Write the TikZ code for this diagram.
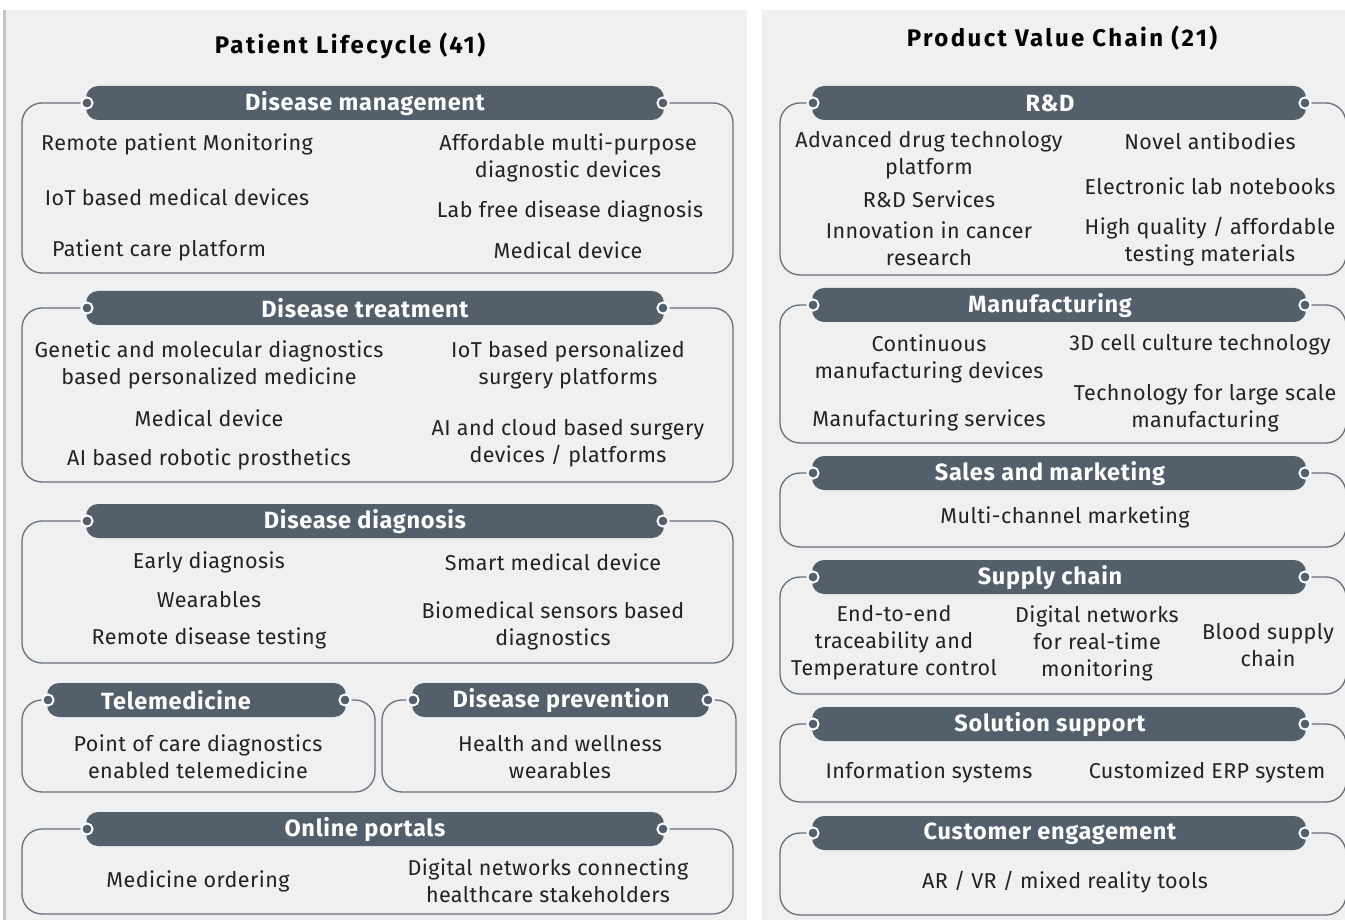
\documentclass[tikz,border=0pt]{standalone}
\usepackage{fontspec}
\setmainfont{Fira Sans}
\newfontfamily\titlefont[LetterSpace=10]{Fira Sans}
\newfontfamily\barfont[LetterSpace=3]{Fira Sans}
\newfontfamily\itemfont[LetterSpace=2]{Fira Sans}
\definecolor{barc}{HTML}{535F6B}
\definecolor{linec}{HTML}{66717C}
\definecolor{panelc}{HTML}{F0F0F0}
\definecolor{edgec}{HTML}{C3C7CB}
\definecolor{txtc}{HTML}{222222}
\tikzset{
  boxline/.style={draw=linec, line width=1.3pt, rounded corners=20pt},
  barfill/.style={fill=barc, rounded corners=12pt},
  bartitle/.style={text=white, font=\fontsize{23.5}{26}\barfont\bfseries, inner sep=0pt},
  item/.style={text=txtc, font=\fontsize{21.5}{27}\itemfont, align=center, inner sep=0pt},
  ptitle/.style={text=black, font=\fontsize{24}{28}\titlefont\bfseries, inner sep=0pt},
  knob/.style={fill=barc, draw=white, line width=1.8pt}
}
% #1 name, #2 xL, #3 xR, #4 c1, #5 c2, #6 ytop, #7 ybot, #8 title x, #9 title
\newcommand\grpbox[9]{%
  \draw[boxline] (#4,#6) -- (#2,#6) -- (#2,#7) -- (#3,#7) -- (#3,#6) -- (#5,#6);
  \fill[barfill] (#4-1,#6-17) rectangle (#5+1,#6+17);
  \node[bartitle] (#1) at (#8,#6+0.5) {#9};
  \fill[knob] (#4,#6) circle (5.5pt);
  \fill[knob] (#5,#6) circle (5.5pt);
  \draw[knob] (#4,#6) circle (5.5pt);
  \draw[knob] (#5,#6) circle (5.5pt);
}
\begin{document}
\begin{tikzpicture}[x=1pt,y=-1pt]
\useasboundingbox (0,0) rectangle (1345,920);
\fill[white] (0,0) rectangle (1345,920);
% panels
\fill[panelc] (5,10) rectangle (747,920);
\fill[edgec] (3,10) rectangle (5.5,920);
\fill[panelc] (762,10) rectangle (1345,920);
\node[ptitle] (t1) at (350,46) {Patient Lifecycle (41)};
\node[ptitle] (t2) at (1062,38) {Product Value Chain (21)};

% ---------- left panel ----------
\grpbox{dm}{22}{733}{87}{663}{103}{273}{365}{Disease management}
\node[item] (dm1) at (177,144) {Remote patient Monitoring};
\node[item] (dm2) at (177,197) {IoT based medical devices};
\node[item] (dm3) at (159,250) {Patient care platform};
\node[item] (dm4) at (568,158) {Affordable multi-purpose\\diagnostic devices};
\node[item] (dm5) at (570,211) {Lab free disease diagnosis};
\node[item] (dm6) at (568,250) {Medical device};

\grpbox{dt}{22}{733}{87}{663}{308}{482}{365}{Disease treatment}
\node[item] (dt1) at (209,365) {Genetic and molecular diagnostics\\based personalized medicine};
\node[item] (dt2) at (209,418) {Medical device};
\node[item] (dt3) at (209,459) {AI based robotic prosthetics};
\node[item] (dt4) at (568,365) {IoT based personalized\\surgery platforms};
\node[item] (dt5) at (568,443) {AI and cloud based surgery\\devices / platforms};

\grpbox{dd}{22}{733}{87}{663}{521}{663}{365}{Disease diagnosis}
\node[item] (dd1) at (209,562) {Early diagnosis};
\node[item] (dd2) at (209,600) {Wearables};
\node[item] (dd3) at (209,638) {Remote disease testing};
\node[item] (dd4) at (553,562) {Smart medical device};
\node[item] (dd5) at (553,626) {Biomedical sensors based\\diagnostics};

\grpbox{tm}{22}{375}{48}{345}{700}{792}{176}{Telemedicine}
\node[item] (tm1) at (198,757) {Point of care diagnostics\\enabled telemedicine};

\grpbox{dp}{382}{736}{413}{708}{700}{792}{561}{Disease prevention}
\node[item] (dp1) at (560,757) {Health and wellness\\wearables};

\grpbox{op}{22}{733}{87}{663}{829}{914}{365}{Online portals}
\node[item] (op1) at (198,881) {Medicine ordering};
\node[item] (op2) at (548,881) {Digital networks connecting\\healthcare stakeholders};

% ---------- right panel ----------
\grpbox{rd}{780}{1346}{813}{1305}{103}{275}{1050}{R\&D}
\node[item] (rd1) at (929,155) {Advanced drug technology\\platform};
\node[item] (rd2) at (929,199) {R\&D Services};
\node[item] (rd3) at (929,244) {Innovation in cancer\\research};
\node[item] (rd4) at (1210,141) {Novel antibodies};
\node[item] (rd5) at (1210,186) {Electronic lab notebooks};
\node[item] (rd6) at (1210,242) {High quality / affordable\\testing materials};

\grpbox{mf}{780}{1346}{813}{1305}{305}{443}{1050}{Manufacturing}
\node[item] (mf1) at (929,359) {Continuous\\manufacturing devices};
\node[item] (mf2) at (929,420) {Manufacturing services};
\node[item] (mf3) at (1200,345) {3D cell culture technology};
\node[item] (mf4) at (1205,408) {Technology for large scale\\manufacturing};

\grpbox{sm}{780}{1346}{813}{1305}{473}{547}{1050}{Sales and marketing}
\node[item] (sm1) at (1065,517) {Multi-channel marketing};

\grpbox{sc}{780}{1346}{813}{1305}{577}{694}{1050}{Supply chain}
\node[item] (sc1) at (894,643) {End-to-end\\traceability and\\Temperature control};
\node[item] (sc2) at (1097,643) {Digital networks\\for real-time\\monitoring};
\node[item] (sc3) at (1268,645) {Blood supply\\chain};

\grpbox{ss}{780}{1346}{813}{1305}{724}{802}{1050}{Solution support}
\node[item] (ss1) at (929,772) {Information systems};
\node[item] (ss2) at (1207,772) {Customized ERP system};

\grpbox{ce}{780}{1346}{813}{1305}{833}{915}{1050}{Customer engagement}
\node[item] (ce1) at (1065,882) {AR / VR / mixed reality tools};
\end{tikzpicture}
\end{document}
